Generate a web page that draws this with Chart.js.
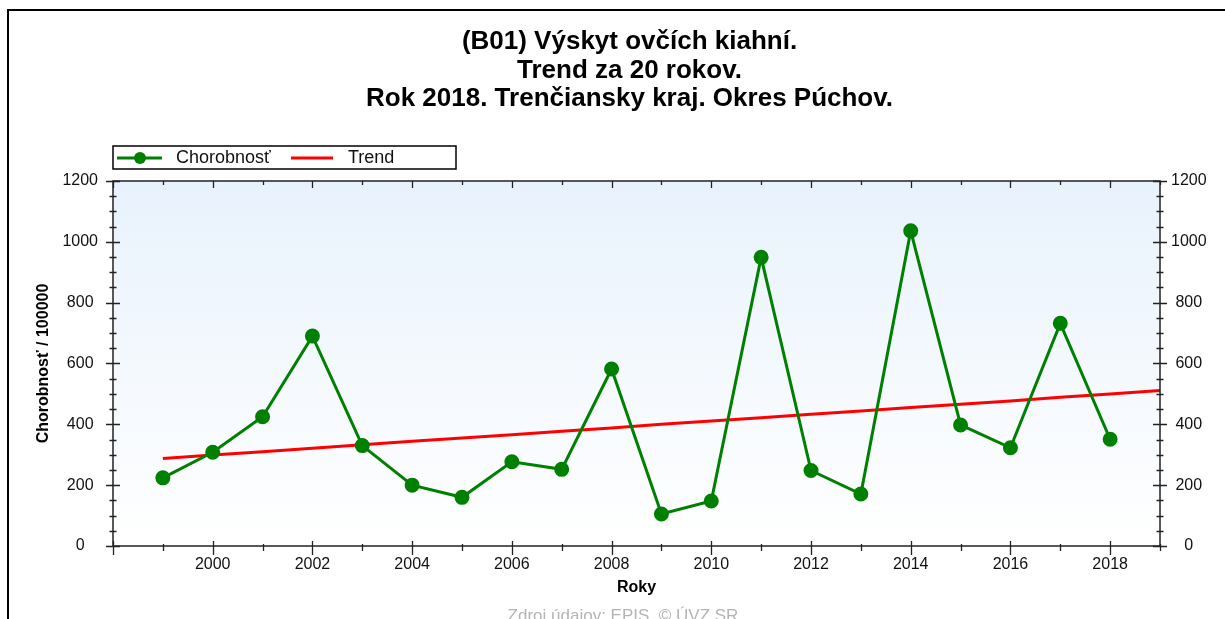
<!DOCTYPE html>
<html>
<head>
<meta charset="utf-8">
<title>Výskyt ovčích kiahní - Púchov</title>
<script src="https://cdn.jsdelivr.net/npm/chart.js@4.4.1/dist/chart.umd.min.js"></script>
<style>
  html, body { margin: 0; padding: 0; background: #fff; }
  #wrap { width: 1225px; height: 619px; position: relative; }
</style>
</head>
<body>
<div id="wrap"><canvas id="myChart" width="1225" height="619"></canvas></div>
<script>
 // data
 const years = [1999, 2000, 2001, 2002, 2003, 2004, 2005, 2006, 2007, 2008,
                2009, 2010, 2011, 2012, 2013, 2014, 2015, 2016, 2017, 2018];
 const incidence = [224, 308, 425, 690, 330, 200, 160, 277, 252, 582,
                    105, 148, 949, 248, 171, 1036, 398, 323, 732, 351];
 const trendYears = [1999, 2000, 2001, 2002, 2003, 2004, 2005, 2006, 2007, 2008,
                     2009, 2010, 2011, 2012, 2013, 2014, 2015, 2016, 2017, 2018, 2019];
 const trendValues = [288, 299, 310, 321, 333, 344, 355, 366, 377, 388,
                      400, 411, 422, 433, 444, 455, 466, 477, 489, 500, 511];
 const titleLines = ['(B01) Výskyt ovčích kiahní.', 'Trend za 20 rokov.', 'Rok 2018. Trenčiansky kraj. Okres Púchov.'];
 const seriesNames = ['Chorobnosť', 'Trend'];
 const yTitle = 'Chorobnosť / 100000';
 const xTitle = 'Roky';
 const sourceText = 'Zdroj údajov: EPIS, © ÚVZ SR';

 const FONT = "'Liberation Sans', Arial, sans-serif";
 const GREEN = '#008000';
 const RED = '#ff0000';

 // frame, cross ticks, legend box, footer
 const decorations = {
     id: 'decorations',
     beforeDatasetsDraw(chart){
         const {ctx, chartArea: a} = chart;
         const g = ctx.createLinearGradient(0, a.top, 0, a.bottom);
         g.addColorStop(0, '#e8f2fc');
         g.addColorStop(1, '#ffffff');
         ctx.save();
         ctx.fillStyle = g;
         ctx.fillRect(a.left, a.top, a.right - a.left, a.bottom - a.top);
         ctx.restore();
     },
     afterDraw(chart){
         const {ctx, chartArea: a} = chart;
         ctx.save();
         // outer border (top + left)
         ctx.strokeStyle = '#000';
         ctx.lineWidth = 2;
         ctx.beginPath();
         ctx.moveTo(8, 619); ctx.lineTo(8, 10); ctx.lineTo(1225, 10);
         ctx.stroke();

         // plot frame
         ctx.strokeStyle = '#222';
         ctx.lineWidth = 1.5;
         ctx.strokeRect(a.left, a.top, a.right - a.left, a.bottom - a.top);

         // y ticks on both sides
         ctx.lineWidth = 1.3;
         ctx.beginPath();
         for (const t of chart.scales.y.ticks){
             const py = Math.round(chart.scales.y.getPixelForValue(t.value)) + 0.5;
             const len = t.value % 200 === 0 ? 7 : 3.5;
             ctx.moveTo(a.left - len, py); ctx.lineTo(a.left + len, py);
             ctx.moveTo(a.right - len, py); ctx.lineTo(a.right + len, py);
         }
         // x ticks bottom and top
         for (const t of chart.scales.x.ticks){
             const px = Math.round(chart.scales.x.getPixelForValue(t.value)) + 0.5;
             const major = t.value % 2 === 0;
             ctx.moveTo(px, a.bottom - (major ? 5 : 2)); ctx.lineTo(px, a.bottom + (major ? 9 : 5));
             ctx.moveTo(px, a.top); ctx.lineTo(px, a.top + (major ? 7 : 4));
         }
         ctx.stroke();

         // legend
         const lx = 113, ly = 146, lw = 343, lh = 23;
         ctx.fillStyle = '#fff';
         ctx.fillRect(lx, ly, lw, lh);
         ctx.strokeStyle = '#000';
         ctx.lineWidth = 1.5;
         ctx.strokeRect(lx, ly, lw, lh);
         const cy = ly + lh / 2 + 0.5;
         const ds = chart.data.datasets;
         ctx.lineWidth = 3;
         ctx.strokeStyle = ds[0].borderColor;
         ctx.beginPath(); ctx.moveTo(117, cy); ctx.lineTo(162, cy); ctx.stroke();
         ctx.fillStyle = ds[0].pointBackgroundColor;
         ctx.beginPath(); ctx.arc(140, cy, 6, 0, Math.PI * 2); ctx.fill();
         ctx.strokeStyle = ds[1].borderColor;
         ctx.beginPath(); ctx.moveTo(291, cy); ctx.lineTo(333, cy); ctx.stroke();
         ctx.fillStyle = '#111';
         ctx.font = '18px ' + FONT;
         ctx.textBaseline = 'middle';
         ctx.textAlign = 'left';
         ctx.fillText(ds[0].label, 176, cy);
         ctx.fillText(ds[1].label, 348, cy);

         // source footer
         ctx.fillStyle = '#b4b4b4';
         ctx.font = '17px ' + FONT;
         ctx.textAlign = 'center';
         ctx.textBaseline = 'alphabetic';
         ctx.fillText(sourceText, 623, 621);
         ctx.restore();
     }
 };

 makeChart();
 function makeChart(){
     const CHART = document.getElementById('myChart');
     new Chart(CHART, {
         type: 'line',
         data: {
             datasets: [{
                 label: seriesNames[0],
                 data: years.map((y, i) => ({x: y, y: incidence[i]})),
                 borderColor: GREEN,
                 backgroundColor: GREEN,
                 pointBackgroundColor: GREEN,
                 pointBorderColor: GREEN,
                 borderWidth: 3,
                 pointRadius: 6,
                 tension: 0
             }, {
                 label: seriesNames[1],
                 data: trendYears.map((y, i) => ({x: y, y: trendValues[i]})),
                 borderColor: RED,
                 backgroundColor: RED,
                 borderWidth: 3,
                 pointRadius: 0,
                 tension: 0
             }]
         },
         options: {
             responsive: false,
             animation: false,
             layout: {padding: {left: 34, right: 0, top: 0, bottom: 21.4}},
             plugins: {
                 legend: {display: false},
                 tooltip: {enabled: false},
                 title: {
                     display: true,
                     text: titleLines,
                     color: '#000',
                     font: {family: FONT, size: 26, weight: 'bold', lineHeight: 1.096},
                     padding: {top: 27.75, bottom: 67.75}
                 }
             },
             scales: {
                 x: {
                     type: 'linear',
                     min: 1998,
                     max: 2019,
                     afterFit(s){ s.height = 51.6; },
                     grid: {drawOnChartArea: false, tickLength: 6, tickColor: 'rgba(0,0,0,0)'},
                     border: {display: false},
                     ticks: {
                         stepSize: 1, autoSkip: false, maxRotation: 0, padding: 3,
                         color: '#111', font: {family: FONT, size: 16},
                         // label even years inside the data range only
                         callback: v => (v % 2 === 0 && v >= years[0] ? String(v) : '')
                     },
                     title: {display: true, text: xTitle, color: '#000', padding: 0,
                             font: {family: FONT, size: 16, weight: 'bold'}}
                 },
                 y: {
                     position: 'left',
                     min: 0,
                     max: 1200,
                     afterFit(s){ s.width = 79; },
                     grid: {drawOnChartArea: false, tickLength: 8, tickColor: 'rgba(0,0,0,0)'},
                     border: {display: false},
                     ticks: {
                         stepSize: 50, autoSkip: false, padding: 7, crossAlign: 'center',
                         color: '#111', font: {family: FONT, size: 16},
                         callback: v => (v % 200 === 0 ? String(v) : '')
                     },
                     title: {display: true, text: yTitle, color: '#000', padding: 0,
                             font: {family: FONT, size: 16, weight: 'bold'}}
                 },
                 y2: {
                     position: 'right',
                     min: 0,
                     max: 1200,
                     afterFit(s){ s.width = 65; },
                     grid: {drawOnChartArea: false, tickLength: 8, tickColor: 'rgba(0,0,0,0)'},
                     border: {display: false},
                     ticks: {
                         stepSize: 200, padding: 3, crossAlign: 'center',
                         color: '#111', font: {family: FONT, size: 16},
                         callback: v => String(v)
                     }
                 }
             }
         },
         plugins: [decorations]
     });
 }
</script>
</body>
</html>
